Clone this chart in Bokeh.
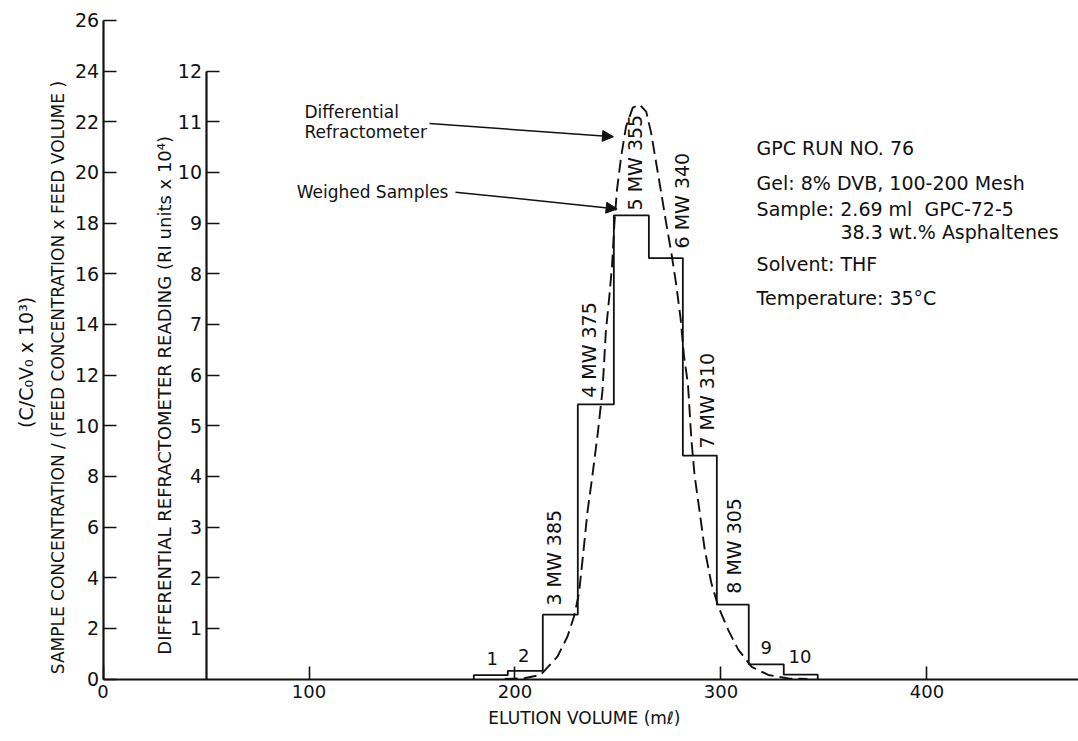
from math import pi
from bokeh.plotting import figure
from bokeh.models import (LinearAxis, Range1d, Label, Arrow, NormalHead,
                          FixedTicker)
from bokeh.embed import file_html
from bokeh.resources import INLINE

# ---------------- data ----------------
# weighed samples (histogram): fraction boundaries (ml) and C/(C0 V0) x 10^3
bin_edges = [180, 196.5, 213.5, 230.5, 248, 265, 281.5, 298, 313.5, 330.5, 347]
sample_conc = [0.15, 0.32, 2.54, 10.84, 18.3, 16.62, 8.82, 2.94, 0.58, 0.17]
sample_no = [1, 2, 3, 4, 5, 6, 7, 8, 9, 10]

# molecular weights of selected fractions
mw_sample = [3, 4, 5, 6, 7, 8]
mw_value = [385, 375, 355, 340, 310, 305]

# differential refractometer trace (RI units x 10^4)
dri_volume = [195, 205, 212.4, 220.6, 225.5, 228.7, 231.1, 232.8, 235.2, 237.6,
              240.1, 242.5, 244.1, 245.8, 247.1, 248.2, 249.5, 251.5, 253.9,
              257.2, 260.4, 263.7, 266.1, 268.5, 271.0, 273.4, 275.9, 278.3,
              280.4, 282.0, 284.0, 285.6, 287.2, 289.7, 292.1, 295.3, 298.6,
              303.5, 308.4, 314.9, 323.0, 332.8, 342]
dri_reading = [0.0, 0.02, 0.08, 0.44, 0.84, 1.24, 1.70, 2.35, 3.3, 4.02,
               4.82, 5.7, 6.85, 7.55, 8.15, 8.95, 9.65, 10.3, 10.9,
               11.28, 11.34, 11.2, 10.78, 10.2, 9.6, 9.0, 8.42, 7.78,
               7.12, 6.4, 5.81, 4.75, 4.02, 3.29, 2.56, 1.9, 1.44,
               0.97, 0.58, 0.24, 0.08, 0.01, 0.0]

x_ticks = [0, 100, 200, 300, 400]
conc_ticks = list(range(0, 27, 2))
ri_ticks = list(range(1, 13))

info_lines = ["GPC RUN NO. 76", "Gel: 8% DVB, 100-200 Mesh",
              "Sample: 2.69 ml\u00a0\u00a0GPC-72-5", "38.3 wt.% Asphaltenes",
              "Solvent: THF", "Temperature: 35\u00b0C"]

# ---------------- layout (positions, not data) ----------------
FONT = "DejaVu Sans"
INK = "#111111"
X0, X1 = -49.8, 473.6
Y0, Y1 = -2.467, 26.787
RI_AXIS_AT = 50

p = figure(width=1078, height=741, output_backend="svg", toolbar_location=None,
           x_range=Range1d(X0, X1), y_range=Range1d(Y0, Y1),
           y_axis_location=None, x_axis_location=None,
           min_border=0, min_border_top=0, min_border_bottom=0,
           min_border_left=0, min_border_right=0)
p.extra_y_ranges = {"ri": Range1d(Y0 / 2, Y1 / 2)}
p.outline_line_color = None
p.grid.visible = False
p.background_fill_color = "white"
p.border_fill_color = "white"


def style_axis(ax, size):
    ax.major_tick_in = 13
    ax.major_tick_out = 0
    ax.minor_tick_line_color = None
    ax.axis_line_width = 2.2
    ax.axis_line_color = INK
    ax.major_tick_line_width = 1.6
    ax.major_tick_line_color = INK
    ax.major_label_text_font = FONT
    ax.major_label_text_font_size = size
    ax.major_label_text_color = INK


# bottom axis along y = 0
xa = LinearAxis(fixed_location=0, bounds=(0, X1), ticker=FixedTicker(ticks=x_ticks))
style_axis(xa, "18px")
xa.major_label_standoff = 6
p.add_layout(xa, "below")

# outer concentration axis at x = 0
ya = LinearAxis(fixed_location=0, bounds=(0, 26),
                ticker=FixedTicker(ticks=conc_ticks))
# inner refractometer axis
yb = LinearAxis(fixed_location=RI_AXIS_AT, y_range_name="ri", bounds=(0, 12),
                ticker=FixedTicker(ticks=ri_ticks))
for ax in (ya, yb):
    style_axis(ax, "19px")
    ax.major_label_standoff = 4
    p.add_layout(ax, "left")

# histogram of weighed samples, drawn as a step outline
step_x, step_y = [bin_edges[0]], [0]
for i, h in enumerate(sample_conc):
    step_x += [bin_edges[i], bin_edges[i + 1]]
    step_y += [h, h]
step_x.append(bin_edges[-1])
step_y.append(0)
p.line(step_x, step_y, line_color=INK, line_width=1.8)

# differential refractometer trace
p.line(dri_volume, dri_reading, y_range_name="ri", line_color=INK,
       line_width=1.9, line_dash="13 6")


def label(x, y, text, size, align="left", angle=0.0):
    p.add_layout(Label(x=x, y=y, text=text, angle=angle, text_align=align,
                       text_baseline="middle", text_font=FONT,
                       text_font_size=size, text_color=INK))


# sample number / MW labels
mw_pos = [(218.7, 2.90), (235.7, 11.1), (258.5, 18.5), (281.3, 17.0),
          (293.4, 9.1), (306.1, 3.37)]
for (lx, ly), s, mw in zip(mw_pos, mw_sample, mw_value):
    label(lx, ly, f"{s} MW {mw}", "19px", angle=pi / 2)
plain_pos = {1: (188.9, 0.81), 2: (204.3, 0.93), 9: (322.0, 1.26), 10: (338.4, 0.87)}
for s in sample_no:
    if s in plain_pos:
        label(*plain_pos[s], str(s), "18px", align="center")

# curve annotations
label(97.8, 22.4, "Differential", "17px")
label(97.8, 21.6, "Refractometer", "17px")
label(167.7, 19.22, "Weighed Samples", "17px", align="right")
p.add_layout(Arrow(x_start=158.5, y_start=21.93, x_end=247.8, y_end=21.41,
                   line_width=1.5, line_color=INK,
                   end=NormalHead(size=11, fill_color=INK, line_color=INK)))
p.add_layout(Arrow(x_start=171.1, y_start=19.22, x_end=249.6, y_end=18.56,
                   line_width=1.5, line_color=INK,
                   end=NormalHead(size=11, fill_color=INK, line_color=INK)))

# run information block
info_pos = [(317.3, 20.98), (317.3, 19.6), (317.3, 18.57), (358.0, 17.63),
            (317.3, 16.4), (317.3, 15.06)]
for (lx, ly), txt in zip(info_pos, info_lines):
    label(lx, ly, txt, "19px")

# axis titles
label(233.7, -1.55, "ELUTION VOLUME (m\u2113)", "17px", align="center")
label(-21.8, 11.9, "SAMPLE CONCENTRATION / (FEED CONCENTRATION x FEED VOLUME )",
      "17px", align="center", angle=pi / 2)
label(-37.6, 12.5, "(C/C\u2080V\u2080 x 10\u00b3)", "19px", align="center",
      angle=pi / 2)
label(29.9, 11.2, "DIFFERENTIAL REFRACTOMETER READING (RI units x 10\u2074)",
      "18px", align="center", angle=pi / 2)

open("out.html", "w").write(file_html(p, INLINE))
